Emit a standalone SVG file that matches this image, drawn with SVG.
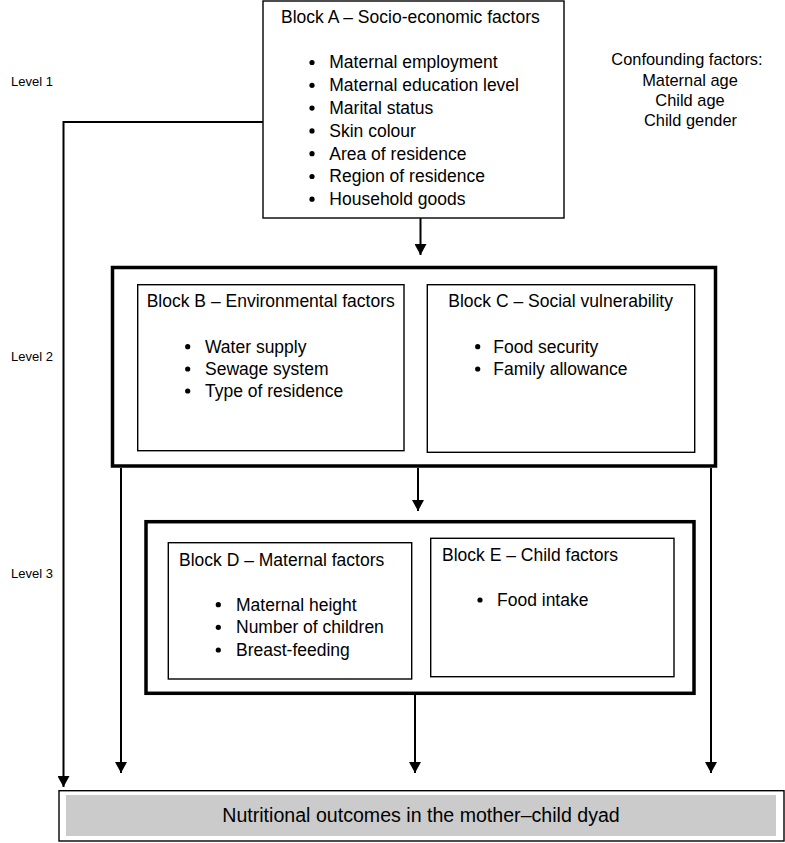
<svg xmlns="http://www.w3.org/2000/svg" width="785" height="843" viewBox="0 0 785 843">
<style>
text{font-family:"Liberation Sans",Arial,sans-serif;fill:#000}
.t{font-size:17.5px}
.cf{font-size:16.4px;text-anchor:middle}
.lv{font-size:13px}
.out{font-size:19.6px;text-anchor:middle}
.box{fill:#fff;stroke:#000;stroke-width:1.4}
.big{fill:none;stroke:#000;stroke-width:3.5}
.con{fill:none;stroke:#000;stroke-width:2}
</style>
<defs>
<marker id="ah" markerUnits="userSpaceOnUse" markerWidth="12" markerHeight="12" refX="11" refY="6" orient="auto">
<path d="M0,0 L11,6 L0,12 z" fill="#000"/>
</marker>
<g id="bul"><circle cx="0" cy="0" r="2.6" fill="#000"/></g>
</defs>
<rect width="785" height="843" fill="#fff"/>

<g id="levels">
<text class="lv" x="11" y="86">Level 1</text>
<text class="lv" x="11" y="361">Level 2</text>
<text class="lv" x="11" y="578">Level 3</text>
</g>

<g id="confounding">
<text class="cf" x="687" y="65">Confounding factors:</text>
<text class="cf" x="690" y="85.5">Maternal age</text>
<text class="cf" x="690" y="106">Child age</text>
<text class="cf" x="690.5" y="126">Child gender</text>
</g>

<g id="connectors">
<path class="con" d="M420.5,218 V255" marker-end="url(#ah)"/>
<path class="con" d="M263,122 H63.5 V787" marker-end="url(#ah)"/>
<path class="con" d="M121,468 V773" marker-end="url(#ah)"/>
<path class="con" d="M418,468 V511" marker-end="url(#ah)"/>
<path class="con" d="M711,468 V773" marker-end="url(#ah)"/>
<path class="con" d="M415,695 V773" marker-end="url(#ah)"/>
</g>

<g id="blockA">
<rect class="box" x="263" y="1" width="301" height="217"/>
<text class="t" x="281" y="23">Block A – Socio-economic factors</text>
<use href="#bul" x="312" y="62.5"/><text class="t" x="329.3" y="68.3">Maternal employment</text>
<use href="#bul" x="312" y="85.3"/><text class="t" x="329.3" y="91.1">Maternal education level</text>
<use href="#bul" x="312" y="108.1"/><text class="t" x="329.3" y="113.9">Marital status</text>
<use href="#bul" x="312" y="130.9"/><text class="t" x="329.3" y="136.7">Skin colour</text>
<use href="#bul" x="312" y="153.7"/><text class="t" x="329.3" y="159.5">Area of residence</text>
<use href="#bul" x="312" y="176.5"/><text class="t" x="329.3" y="182.3">Region of residence</text>
<use href="#bul" x="312" y="199.2"/><text class="t" x="329.3" y="205">Household goods</text>
</g>

<g id="level2">
<rect class="big" x="112.5" y="267.5" width="603" height="198.5"/>
</g>

<g id="blockB">
<rect class="box" x="137.7" y="284.7" width="266.3" height="166"/>
<text class="t" x="146.7" y="307">Block B – Environmental factors</text>
<use href="#bul" x="187.7" y="346.7"/><text class="t" x="205" y="352.7">Water supply</text>
<use href="#bul" x="187.7" y="369"/><text class="t" x="205" y="375">Sewage system</text>
<use href="#bul" x="187.7" y="391"/><text class="t" x="205" y="397">Type of residence</text>
</g>

<g id="blockC">
<rect class="box" x="427.3" y="284.7" width="267.4" height="167.6"/>
<text class="t" x="448.3" y="307">Block C – Social vulnerability</text>
<use href="#bul" x="477.7" y="346.7"/><text class="t" x="493.3" y="352.7">Food security</text>
<use href="#bul" x="477.7" y="369"/><text class="t" x="493.3" y="375">Family allowance</text>
</g>

<g id="level3">
<rect class="big" x="146" y="521.7" width="548" height="171.6"/>
</g>

<g id="blockD">
<rect class="box" x="168.3" y="542.7" width="243.4" height="136.3"/>
<text class="t" x="179" y="566">Block D – Maternal factors</text>
<use href="#bul" x="218.3" y="604.7"/><text class="t" x="236" y="610.7">Maternal height</text>
<use href="#bul" x="218.3" y="627.3"/><text class="t" x="236" y="633.3">Number of children</text>
<use href="#bul" x="218.3" y="650"/><text class="t" x="236" y="656">Breast-feeding</text>
</g>

<g id="blockE">
<rect class="box" x="430.7" y="538.3" width="243.3" height="138.4"/>
<text class="t" x="442" y="561">Block E – Child factors</text>
<use href="#bul" x="480" y="600"/><text class="t" x="497" y="606">Food intake</text>
</g>

<g id="outcome">
<rect class="box" x="59" y="790.7" width="725" height="50.3"/>
<rect x="66" y="795" width="710" height="41" fill="#cbcbcb"/>
<text class="out" x="421" y="822">Nutritional outcomes in the mother–child dyad</text>
</g>
</svg>
